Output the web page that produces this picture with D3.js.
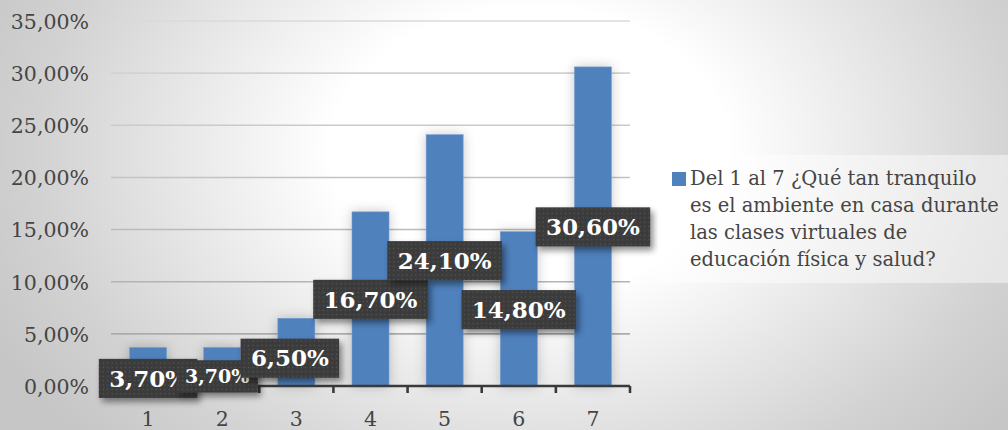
<!DOCTYPE html>
<html>
<head>
<meta charset="utf-8">
<script src="https://cdn.jsdelivr.net/npm/d3@7"></script>
<style>
  html, body { margin: 0; padding: 0; background: #fff; }
  svg { display: block; }
</style>
</head>
<body>
<svg id="chart" width="1008" height="430"></svg>
<script>
// Survey answers on a 1–7 scale
const categories = ["1", "2", "3", "4", "5", "6", "7"];
const values = [3.7, 3.7, 6.5, 16.7, 24.1, 14.8, 30.6];
const yTicks = [0, 5, 10, 15, 20, 25, 30, 35];
const seriesName = "Del 1 al 7 ¿Qué tan tranquilo es el ambiente en casa durante las clases virtuales de educación física y salud?";
const legendLines = ["Del 1 al 7 ¿Qué tan tranquilo", "es el ambiente en casa durante", "las clases virtuales de", "educación física y salud?"];

// Hand-placed data label positions (px offset from each bar's top centre) and sizes
const labelShift = [[0, 31], [-5, 29], [-6.5, 40], [0, 87.5], [0, 126], [0, 78], [0, 160]];
const labelFontSize = [23, 19, 23, 23, 23, 23, 23];

const W = 1008, H = 430;
const plot = { left: 111, right: 630, top: 21, bottom: 386 };
const serif = "'DejaVu Serif', 'Liberation Serif', serif";
const fmt = v => v.toFixed(2).replace(".", ",") + "%";

const svg = d3.select("#chart");
const defs = svg.append("defs");

// Background: soft radial light fading to grey at the edges
const bg = defs.append("radialGradient").attr("id", "bg")
  .attr("gradientUnits", "userSpaceOnUse")
  .attr("cx", 530).attr("cy", 150).attr("r", 600)
  .attr("gradientTransform", "translate(530,150) scale(1,0.72) translate(-530,-150)");
[[0, "#ffffff"], [0.33, "#ffffff"], [0.82, "#d2d2d2"], [1, "#c6c6c6"]]
  .forEach(([o, c]) => bg.append("stop").attr("offset", o).attr("stop-color", c));

// Gridlines get darker towards the bottom
const gg = defs.append("linearGradient").attr("id", "gridGrad")
  .attr("gradientUnits", "userSpaceOnUse")
  .attr("x1", 0).attr("y1", plot.top).attr("x2", 0).attr("y2", plot.bottom);
gg.append("stop").attr("offset", 0).attr("stop-color", "#dadada");
gg.append("stop").attr("offset", 1).attr("stop-color", "#a4a4a4");

// Soft halo around bars
const barGlow = defs.append("filter").attr("id", "barGlow")
  .attr("x", "-60%").attr("y", "-20%").attr("width", "220%").attr("height", "140%");
barGlow.append("feDropShadow").attr("dx", 0).attr("dy", 0)
  .attr("stdDeviation", 6).attr("flood-color", "#000").attr("flood-opacity", 0.22);

// Label box drop shadow
const lblShadow = defs.append("filter").attr("id", "lblShadow")
  .attr("x", "-20%").attr("y", "-30%").attr("width", "150%").attr("height", "180%");
lblShadow.append("feDropShadow").attr("dx", 3).attr("dy", 4)
  .attr("stdDeviation", 3).attr("flood-color", "#000").attr("flood-opacity", 0.45);

// Dotted dark texture for label boxes
const pat = defs.append("pattern").attr("id", "dots")
  .attr("patternUnits", "userSpaceOnUse").attr("width", 4.4).attr("height", 4.4);
pat.append("rect").attr("width", 4.4).attr("height", 4.4).attr("fill", "#3b3b3b");
pat.append("rect").attr("x", 1.6).attr("y", 1.6).attr("width", 1.2).attr("height", 1.2).attr("fill", "#5a5a5a");

svg.append("rect").attr("width", W).attr("height", H).attr("fill", "url(#bg)");

// Scales
const x = d3.scaleBand().domain(categories).range([plot.left, plot.right]).paddingInner(0.5).paddingOuter(0.25);
const xb = d3.scaleBand().domain(categories).range([plot.left, plot.right]);
const y = d3.scaleLinear().domain([0, 35]).range([plot.bottom, plot.top]);

// Gridlines
svg.append("g").selectAll("line").data(yTicks.filter(t => t > 0)).join("line")
  .attr("x1", plot.left).attr("x2", plot.right)
  .attr("y1", d => y(d)).attr("y2", d => y(d))
  .attr("stroke", "url(#gridGrad)").attr("stroke-width", 1.6);

// Y axis labels
const yAxis = svg.append("g").attr("transform", `translate(${plot.left},0)`)
  .call(d3.axisLeft(y).tickValues(yTicks).tickFormat(fmt).tickSize(0).tickPadding(22));
yAxis.select(".domain").remove();
yAxis.selectAll("text").attr("font-family", serif).attr("font-size", 20.5)
  .attr("fill", "#454545").attr("dy", "0.36em");

// Bars
svg.append("g").selectAll("rect").data(values).join("rect")
  .attr("x", (d, i) => x(categories[i]))
  .attr("width", x.bandwidth())
  .attr("y", d => y(d))
  .attr("height", d => y(0) - y(d))
  .attr("fill", "#4f81bd")
  .attr("stroke", "#7aa0d0").attr("stroke-width", 0.6)
  .attr("filter", "url(#barGlow)");

// X axis: line with ticks at category boundaries
const xAxis = svg.append("g").attr("transform", `translate(0,${plot.bottom})`);
xAxis.append("line").attr("x1", plot.left).attr("x2", plot.right)
  .attr("stroke", "#3a3a3a").attr("stroke-width", 2.6);
const bounds = categories.map(c => xb(c)).concat([plot.right]);
xAxis.selectAll("line.tick").data(bounds).join("line").attr("class", "tick")
  .attr("x1", d => d).attr("x2", d => d).attr("y1", 0).attr("y2", 7)
  .attr("stroke", "#3a3a3a").attr("stroke-width", 2.6);
xAxis.selectAll("text").data(categories).join("text")
  .attr("x", d => x(d) + x.bandwidth() / 2).attr("y", 40)
  .attr("text-anchor", "middle")
  .attr("font-family", serif).attr("font-size", 20.5).attr("fill", "#454545")
  .text(d => d);

// Data labels
const labels = svg.append("g");
values.forEach((v, i) => {
  const cx = x(categories[i]) + x.bandwidth() / 2 + labelShift[i][0];
  const cy = y(v) + labelShift[i][1];
  const fs = labelFontSize[i];
  const g = labels.append("g");
  const box = g.append("rect").attr("fill", "url(#dots)").attr("filter", "url(#lblShadow)");
  const t = g.append("text").attr("x", cx).attr("y", cy).attr("dy", "0.36em")
    .attr("text-anchor", "middle").attr("font-family", serif).attr("font-weight", "bold")
    .attr("font-size", fs).attr("fill", "#ffffff").text(fmt(v));
  const tw = t.node().getComputedTextLength();
  const bw = tw + fs * 0.9, bh = fs * 1.7;
  box.attr("x", cx - bw / 2).attr("y", cy - bh / 2).attr("width", bw).attr("height", bh);
});

// Legend
const lg = svg.append("g");
lg.append("rect").attr("x", 658).attr("y", 155).attr("width", 350).attr("height", 128)
  .attr("fill", "#ffffff").attr("fill-opacity", 0.45);
lg.append("rect").attr("x", 672).attr("y", 172).attr("width", 14).attr("height", 14)
  .attr("fill", "#4f81bd");
lg.append("text").attr("font-family", serif).attr("font-size", 19.5).attr("fill", "#454545")
  .selectAll("tspan").data(legendLines).join("tspan")
  .attr("x", 690).attr("y", (d, i) => 185 + i * 27).text(d => d);
lg.append("title").text(seriesName);
</script>
</body>
</html>
